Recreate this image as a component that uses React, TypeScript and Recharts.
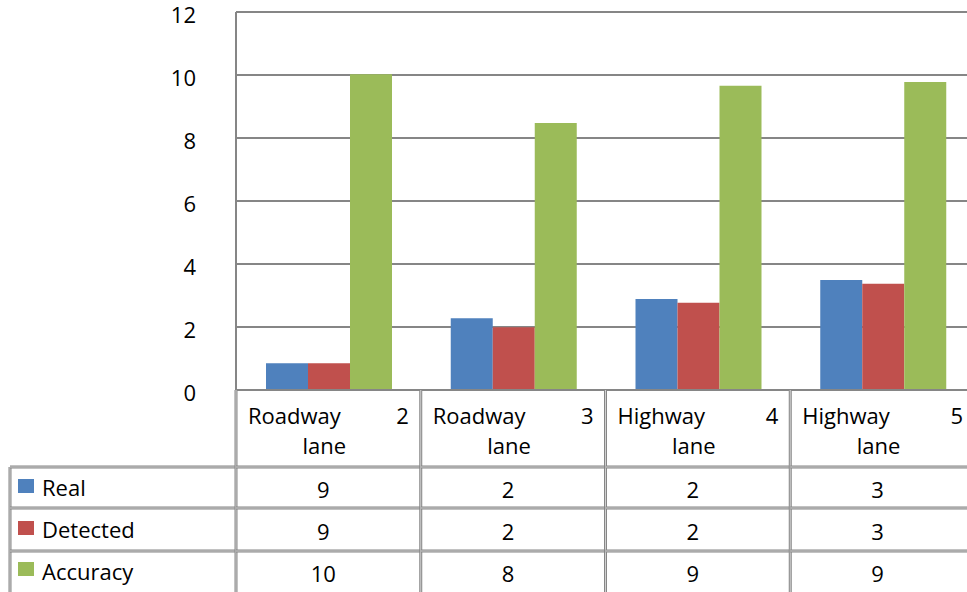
import { BarChart, Bar, XAxis, YAxis, CartesianGrid } from 'recharts';

const categories = ['Roadway 2 lane', 'Roadway 3 lane', 'Highway 4 lane', 'Highway 5 lane'];
const realValues = [0.85, 2.28, 2.89, 3.49];
const detectedValues = [0.85, 1.99, 2.77, 3.37];
const accuracyValues = [10.02, 8.48, 9.66, 9.78];
const yTicks = [0, 2, 4, 6, 8, 10, 12];

// numbers printed in the data table under the plot
const realTable = ['9', '2', '2', '3'];
const detectedTable = ['9', '2', '2', '3'];
const accuracyTable = ['10', '8', '9', '9'];

const SERIES = [
  { key: 'real', name: 'Real', color: '#4F81BD', table: realTable },
  { key: 'detected', name: 'Detected', color: '#C0504D', table: detectedTable },
  { key: 'accuracy', name: 'Accuracy', color: '#9BBB59', table: accuracyTable },
];

const data = categories.map((name, i) => ({
  name,
  real: realValues[i],
  detected: detectedValues[i],
  accuracy: accuracyValues[i],
}));

const FONT = '"Open Sans", sans-serif';
const GRID = '#868686';
const CHART_W = 975;
const CHART_H = 592;
const Y_W = 236;
const TABLE_LEFT = 10;
const ROW_LINES = [77, 118, 161];
const ROW_BASE = [108, 150, 192];
const LEGEND_BASE = [106, 148, 190];
const LEGEND_BOX = [89, 131, 172];

function DoubleLine(props: { x1: number; y1: number; x2: number; y2: number }) {
  return (
    <g>
      <line {...props} stroke={GRID} strokeWidth={3} />
      <line {...props} stroke="#d0d0d0" strokeWidth={1} />
    </g>
  );
}

function YTick(props: any) {
  const { x, y, payload } = props;
  return (
    <text x={x - 40} y={y + 11} textAnchor="end" fontFamily={FONT} fontSize={22} fill="#000">
      {payload.value}
    </text>
  );
}

function TableTick(props: any) {
  const { x, y, payload, index } = props;
  const half = payload.offset || (CHART_W - Y_W) / categories.length / 2;
  const left = x - half;
  const right = x + half;
  const [word, num, tail] = String(payload.value).split(' ');
  const mid = x - 5;
  const last = index === categories.length - 1;
  return (
    <g fontFamily={FONT} fontSize={22} fill="#000">
      {index === 0 && (
        <g>
          <DoubleLine x1={TABLE_LEFT} y1={y + ROW_LINES[0]} x2={TABLE_LEFT} y2={y + 210} />
          {ROW_LINES.map((ry) => (
            <DoubleLine key={ry} x1={TABLE_LEFT} y1={y + ry} x2={left} y2={y + ry} />
          ))}
          {SERIES.map((s, r) => (
            <g key={s.key}>
              <rect x={18} y={y + LEGEND_BOX[r]} width={16} height={14} fill={s.color} />
              <text x={42} y={y + LEGEND_BASE[r]}>{s.name}</text>
            </g>
          ))}
        </g>
      )}
      <DoubleLine x1={left} y1={y} x2={left} y2={y + 210} />
      {last && <DoubleLine x1={right} y1={y} x2={right} y2={y + 210} />}
      {ROW_LINES.map((ry) => (
        <DoubleLine key={ry} x1={left} y1={y + ry} x2={right} y2={y + ry} />
      ))}
      <text x={left + 12} y={y + 34}>{word}</text>
      <text x={right - 12} y={y + 34} textAnchor="end">{num}</text>
      <text x={x - 4} y={y + 64} textAnchor="middle">{tail}</text>
      {SERIES.map((s, r) => (
        <text key={s.key} x={mid} y={y + ROW_BASE[r]} textAnchor="middle">
          {s.table[index]}
        </text>
      ))}
    </g>
  );
}

export default function App() {
  return (
    <div
      style={{
        position: 'absolute',
        left: 0,
        top: 0,
        width: 967,
        height: 592,
        overflow: 'hidden',
        background: '#fff',
      }}
    >
      <BarChart
        width={CHART_W}
        height={CHART_H}
        data={data}
        margin={{ top: 12, right: 0, bottom: 0, left: 0 }}
        barCategoryGap={30}
        barGap={0}
      >
        <CartesianGrid vertical={false} stroke={GRID} strokeWidth={2} />
        <YAxis
          width={Y_W}
          domain={[0, 12]}
          ticks={yTicks}
          interval={0}
          tickLine={false}
          tickSize={0}
          tickMargin={0}
          axisLine={{ stroke: GRID, strokeWidth: 2 }}
          tick={<YTick />}
        />
        <XAxis
          dataKey="name"
          height={CHART_H - 12 - 378}
          interval={0}
          tickLine={false}
          tickSize={0}
          tickMargin={0}
          axisLine={{ stroke: GRID, strokeWidth: 2 }}
          tick={<TableTick />}
        />
        {SERIES.map((s) => (
          <Bar key={s.key} dataKey={s.key} name={s.name} fill={s.color} isAnimationActive={false} />
        ))}
      </BarChart>
    </div>
  );
}
